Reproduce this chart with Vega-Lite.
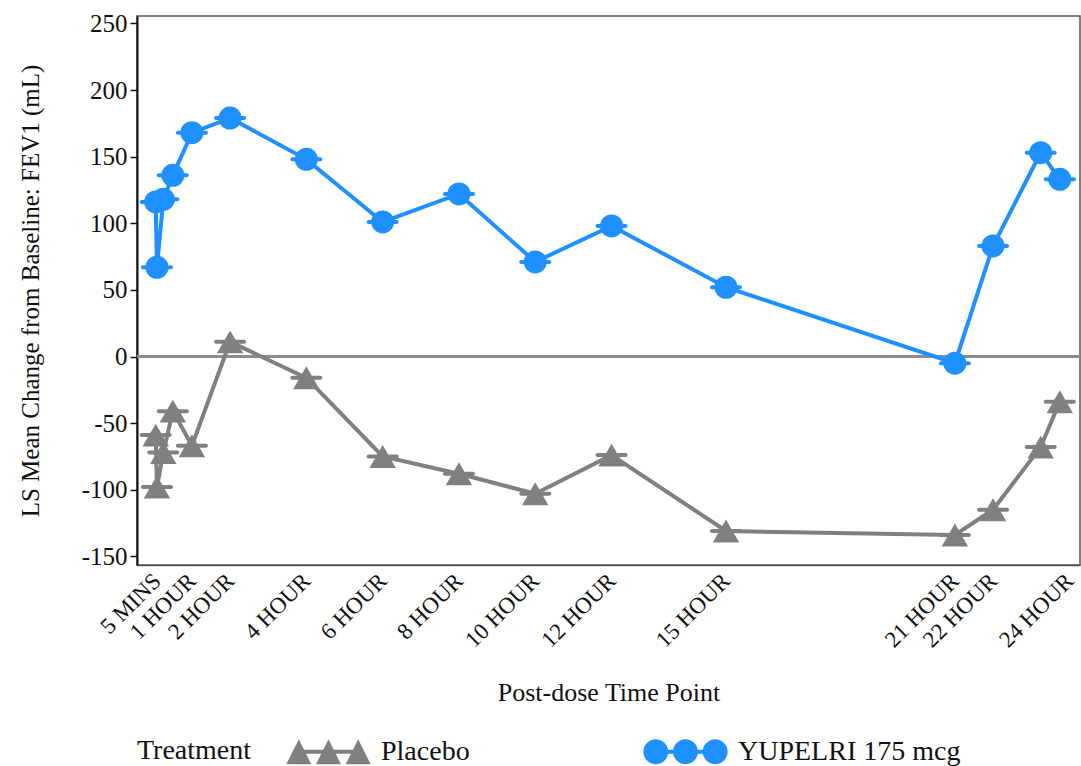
{
  "$schema": "https://vega.github.io/schema/vega-lite/v6.json",
  "width": 943,
  "height": 549,
  "autosize": {"type": "none"},
  "padding": {"left": 137, "top": 16, "right": 1, "bottom": 201},
  "background": "white",
  "config": {
    "font": "Liberation Serif",
    "view": {"stroke": "#555555", "strokeWidth": 1.5},
    "style": {"guide-label": {"font": "Liberation Serif"}, "guide-title": {"font": "Liberation Serif"}},
    "axis": {"labelFont": "Liberation Serif", "titleFont": "Liberation Serif", "labelColor": "#111111", "titleColor": "#111111", "titleFontWeight": "normal", "grid": false},
    "legend": {"labelFont": "Liberation Serif", "titleFont": "Liberation Serif", "labelFontSize": 28, "titleFontSize": 28, "titleFontWeight": "normal", "labelColor": "#111111", "titleColor": "#111111", "labelLimit": 400}
  },
  "data": {
    "values": [
      {"t": 0.05, "v": -59, "trt": "Placebo"},
      {"t": 0.083, "v": -98, "trt": "Placebo"},
      {"t": 0.25, "v": -72, "trt": "Placebo"},
      {"t": 0.5, "v": -41, "trt": "Placebo"},
      {"t": 1, "v": -67, "trt": "Placebo"},
      {"t": 2, "v": 11, "trt": "Placebo"},
      {"t": 4, "v": -16, "trt": "Placebo"},
      {"t": 6, "v": -75, "trt": "Placebo"},
      {"t": 8, "v": -88, "trt": "Placebo"},
      {"t": 10, "v": -103, "trt": "Placebo"},
      {"t": 12, "v": -74, "trt": "Placebo"},
      {"t": 15, "v": -131, "trt": "Placebo"},
      {"t": 21, "v": -134, "trt": "Placebo"},
      {"t": 22, "v": -115, "trt": "Placebo"},
      {"t": 23.25, "v": -68, "trt": "Placebo"},
      {"t": 23.75, "v": -34, "trt": "Placebo"},
      {"t": 0.05, "v": 116, "trt": "YUPELRI 175 mcg"},
      {"t": 0.083, "v": 67, "trt": "YUPELRI 175 mcg"},
      {"t": 0.25, "v": 118, "trt": "YUPELRI 175 mcg"},
      {"t": 0.5, "v": 136, "trt": "YUPELRI 175 mcg"},
      {"t": 1, "v": 168, "trt": "YUPELRI 175 mcg"},
      {"t": 2, "v": 179, "trt": "YUPELRI 175 mcg"},
      {"t": 4, "v": 148, "trt": "YUPELRI 175 mcg"},
      {"t": 6, "v": 101, "trt": "YUPELRI 175 mcg"},
      {"t": 8, "v": 122, "trt": "YUPELRI 175 mcg"},
      {"t": 10, "v": 71, "trt": "YUPELRI 175 mcg"},
      {"t": 12, "v": 98, "trt": "YUPELRI 175 mcg"},
      {"t": 15, "v": 52, "trt": "YUPELRI 175 mcg"},
      {"t": 21, "v": -5, "trt": "YUPELRI 175 mcg"},
      {"t": 22, "v": 83, "trt": "YUPELRI 175 mcg"},
      {"t": 23.25, "v": 153, "trt": "YUPELRI 175 mcg"},
      {"t": 23.75, "v": 133, "trt": "YUPELRI 175 mcg"}
    ]
  },
  "layer": [
    {
      "mark": {"type": "rule", "color": "#8c8c8c", "strokeWidth": 2},
      "encoding": {
        "y": {
          "datum": 0, "type": "quantitative",
          "scale": {"domain": [-156.5, 255.6], "nice": false, "zero": false},
          "axis": {
            "title": "LS Mean Change from Baseline: FEV1 (mL)",
            "titleFontSize": 25,
            "titlePadding": 38,
            "values": [-150, -100, -50, 0, 50, 100, 150, 200, 250],
            "labelExpr": "'' + datum.value",
            "labelFontSize": 25,
            "labelPadding": 3,
            "tickSize": 7,
            "tickWidth": 1.5,
            "tickColor": "#111111",
            "domainColor": "#111111",
            "domainWidth": 2
          }
        }
      }
    },
    {
      "encoding": {
        "x": {
          "field": "t", "type": "quantitative",
          "scale": {"domain": [-0.44, 24.28], "nice": false, "zero": false},
          "axis": {
            "title": "Post-dose Time Point",
            "titleFontSize": 26,
            "titlePadding": 28,
            "values": [0.083, 1, 2, 4, 6, 8, 10, 12, 15, 21, 22, 24],
            "labelExpr": "datum.value < 0.5 ? '5 MINS' : datum.value + ' HOUR'",
            "labelAngle": -45,
            "labelAlign": "right",
            "labelBaseline": "middle",
            "labelFontSize": 23,
            "labelPadding": 12,
            "labelOverlap": false,
            "labelFlush": false,
            "ticks": false,
            "domainColor": "#555555",
            "domainWidth": 1.5
          }
        },
        "y": {
          "field": "v", "type": "quantitative",
          "scale": {"domain": [-156.5, 255.6], "nice": false, "zero": false},
          "axis": {
            "title": "LS Mean Change from Baseline: FEV1 (mL)",
            "titleFontSize": 25,
            "titlePadding": 38,
            "values": [-150, -100, -50, 0, 50, 100, 150, 200, 250],
            "labelExpr": "'' + datum.value",
            "labelFontSize": 25,
            "labelPadding": 3,
            "tickSize": 7,
            "tickWidth": 1.5,
            "tickColor": "#111111",
            "domainColor": "#111111",
            "domainWidth": 2
          }
        }
      },
      "layer": [
        {
          "transform": [{"filter": "datum.trt === 'Placebo'"}],
          "mark": {"type": "line", "strokeWidth": 4, "color": "#808080"}
        },
        {
          "transform": [{"filter": "datum.trt === 'YUPELRI 175 mcg'"}],
          "mark": {"type": "line", "strokeWidth": 4, "color": "#1E90FF"}
        },
        {
          "transform": [{"filter": "datum.trt === 'Placebo'"}],
          "mark": {"type": "tick", "orient": "horizontal", "size": 32, "thickness": 4, "cornerRadius": 2, "opacity": 1, "color": "#808080"}
        },
        {
          "transform": [{"filter": "datum.trt === 'YUPELRI 175 mcg'"}],
          "mark": {"type": "tick", "orient": "horizontal", "size": 32, "thickness": 4, "cornerRadius": 2, "opacity": 1, "color": "#1E90FF"}
        },
        {
          "transform": [{"filter": "datum.trt === 'Placebo'"}],
          "mark": {"type": "point", "shape": "triangle-up", "filled": true, "size": 700, "opacity": 1, "color": "#808080"}
        },
        {
          "transform": [{"filter": "datum.trt === 'YUPELRI 175 mcg'"}],
          "mark": {"type": "point", "shape": "circle", "filled": true, "size": 530, "opacity": 1, "color": "#1E90FF"}
        },
        {
          "transform": [{"filter": "datum.t > 1000"}],
          "mark": {"type": "point", "filled": true, "opacity": 1, "size": 800},
          "encoding": {
            "color": {
              "field": "trt", "type": "nominal",
              "scale": {"domain": ["Placebo", "YUPELRI 175 mcg"], "range": ["#808080", "#1E90FF"]},
              "legend": {
                "title": "Treatment", "orient": "none", "legendX": 0, "legendY": 721,
                "direction": "horizontal", "titleOrient": "left", "titlePadding": 34,
                "titleFontSize": 28, "titleFontWeight": "normal", "titleFont": "Liberation Serif", "titleColor": "#111111",
                "labelFontSize": 28, "labelFont": "Liberation Serif", "labelColor": "#111111", "labelLimit": 400,
                "symbolSize": 800, "symbolStrokeWidth": 0, "symbolOpacity": 1,
                "symbolOffset": 28, "labelOffset": 38, "columnPadding": 173
              }
            },
            "shape": {
              "field": "trt", "type": "nominal",
              "scale": {"domain": ["Placebo", "YUPELRI 175 mcg"], "range": [
                "M-2.98,0.88L-2.1,-0.88L-1.22,0.88ZM-0.88,0.88L0,-0.88L0.88,0.88ZM1.22,0.88L2.1,-0.88L2.98,0.88ZM-2.1,-0.14L2.1,-0.14L2.1,0.14L-2.1,0.14Z",
                "M-2.98,0A0.88,0.88,0,1,1,-1.22,0A0.88,0.88,0,1,1,-2.98,0ZM-0.88,0A0.88,0.88,0,1,1,0.88,0A0.88,0.88,0,1,1,-0.88,0ZM1.22,0A0.88,0.88,0,1,1,2.98,0A0.88,0.88,0,1,1,1.22,0ZM-2.1,-0.14L2.1,-0.14L2.1,0.14L-2.1,0.14Z"
              ]},
              "legend": {
                "title": "Treatment", "orient": "none", "legendX": 0, "legendY": 721,
                "direction": "horizontal", "titleOrient": "left", "titlePadding": 34,
                "titleFontSize": 28, "titleFontWeight": "normal", "titleFont": "Liberation Serif", "titleColor": "#111111",
                "labelFontSize": 28, "labelFont": "Liberation Serif", "labelColor": "#111111", "labelLimit": 400,
                "symbolSize": 800, "symbolStrokeWidth": 0, "symbolOpacity": 1,
                "symbolOffset": 28, "labelOffset": 38, "columnPadding": 173
              }
            }
          }
        }
      ]
    }
  ]
}
